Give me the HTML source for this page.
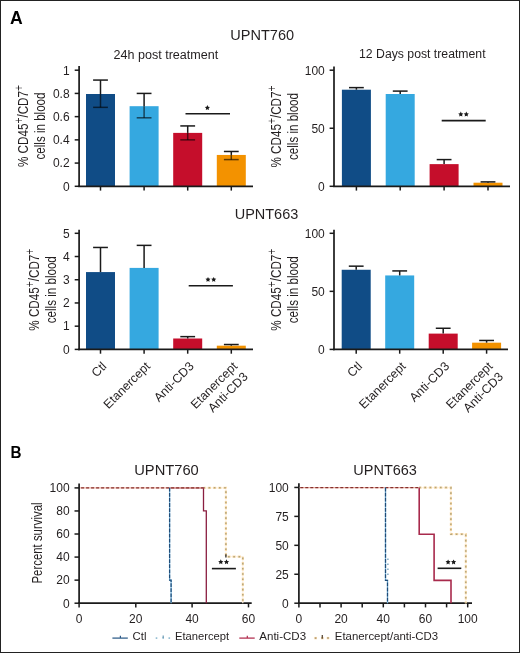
<!DOCTYPE html>
<html><head><meta charset="utf-8"><style>
html,body{margin:0;padding:0;background:#fff;}
body{width:520px;height:653px;overflow:hidden;}
svg{display:block;font-family:"Liberation Sans",sans-serif;will-change:transform;}
</style></head><body>
<svg width="520" height="653" viewBox="0 0 520 653">
<rect x="0" y="0" width="520" height="653" fill="#fff"/>
<text x="9.90" y="23.60" font-size="17.6" text-anchor="start" font-weight="bold" fill="#000" >A</text>
<text x="262.20" y="39.90" font-size="15" text-anchor="middle" font-weight="normal" fill="#231f20" textLength="63.8" lengthAdjust="spacingAndGlyphs" >UPNT760</text>
<text x="165.90" y="58.80" font-size="12.5" text-anchor="middle" font-weight="normal" fill="#231f20" textLength="104.8" lengthAdjust="spacingAndGlyphs" >24h post treatment</text>
<text x="422.30" y="58.40" font-size="12.3" text-anchor="middle" font-weight="normal" fill="#231f20" textLength="126.5" lengthAdjust="spacingAndGlyphs" >12 Days post treatment</text>
<text x="266.50" y="218.80" font-size="15" text-anchor="middle" font-weight="normal" fill="#231f20" textLength="63.6" lengthAdjust="spacingAndGlyphs" >UPNT663</text>
<rect x="86.00" y="94.00" width="29.00" height="92.30" fill="#104c86"/>
<rect x="129.60" y="106.19" width="29.00" height="80.11" fill="#35a8e0"/>
<rect x="173.20" y="132.89" width="29.00" height="53.41" fill="#c50e2b"/>
<rect x="216.80" y="154.95" width="29.00" height="31.35" fill="#f39200"/>
<line x1="100.50" y1="94.00" x2="100.50" y2="80.07" stroke="#1a1a1a" stroke-width="1.5" />
<line x1="93.10" y1="80.07" x2="107.90" y2="80.07" stroke="#1a1a1a" stroke-width="1.5" />
<line x1="100.50" y1="107.35" x2="100.50" y2="94.00" stroke="#000" stroke-width="1.5" stroke-opacity="0.6"/>
<line x1="93.10" y1="107.35" x2="107.90" y2="107.35" stroke="#000" stroke-width="1.5" stroke-opacity="0.6"/>
<line x1="144.10" y1="106.19" x2="144.10" y2="93.42" stroke="#1a1a1a" stroke-width="1.5" />
<line x1="136.70" y1="93.42" x2="151.50" y2="93.42" stroke="#1a1a1a" stroke-width="1.5" />
<line x1="144.10" y1="117.80" x2="144.10" y2="106.19" stroke="#000" stroke-width="1.5" stroke-opacity="0.6"/>
<line x1="136.70" y1="117.80" x2="151.50" y2="117.80" stroke="#000" stroke-width="1.5" stroke-opacity="0.6"/>
<line x1="187.70" y1="132.89" x2="187.70" y2="125.93" stroke="#1a1a1a" stroke-width="1.5" />
<line x1="180.30" y1="125.93" x2="195.10" y2="125.93" stroke="#1a1a1a" stroke-width="1.5" />
<line x1="187.70" y1="139.86" x2="187.70" y2="132.89" stroke="#000" stroke-width="1.5" stroke-opacity="0.6"/>
<line x1="180.30" y1="139.86" x2="195.10" y2="139.86" stroke="#000" stroke-width="1.5" stroke-opacity="0.6"/>
<line x1="231.30" y1="154.95" x2="231.30" y2="151.47" stroke="#1a1a1a" stroke-width="1.5" />
<line x1="223.90" y1="151.47" x2="238.70" y2="151.47" stroke="#1a1a1a" stroke-width="1.5" />
<line x1="231.30" y1="159.60" x2="231.30" y2="154.95" stroke="#000" stroke-width="1.5" stroke-opacity="0.6"/>
<line x1="223.90" y1="159.60" x2="238.70" y2="159.60" stroke="#000" stroke-width="1.5" stroke-opacity="0.6"/>
<line x1="79.10" y1="66.00" x2="79.10" y2="187.10" stroke="#1a1a1a" stroke-width="1.7" />
<line x1="78.25" y1="186.30" x2="253.00" y2="186.30" stroke="#1a1a1a" stroke-width="1.7" />
<line x1="74.70" y1="186.30" x2="79.10" y2="186.30" stroke="#1a1a1a" stroke-width="1.5" />
<text x="69.60" y="190.60" font-size="12" text-anchor="end" font-weight="normal" fill="#231f20" >0</text>
<line x1="74.70" y1="163.08" x2="79.10" y2="163.08" stroke="#1a1a1a" stroke-width="1.5" />
<text x="69.60" y="167.38" font-size="12" text-anchor="end" font-weight="normal" fill="#231f20" >0.2</text>
<line x1="74.70" y1="139.86" x2="79.10" y2="139.86" stroke="#1a1a1a" stroke-width="1.5" />
<text x="69.60" y="144.16" font-size="12" text-anchor="end" font-weight="normal" fill="#231f20" >0.4</text>
<line x1="74.70" y1="116.64" x2="79.10" y2="116.64" stroke="#1a1a1a" stroke-width="1.5" />
<text x="69.60" y="120.94" font-size="12" text-anchor="end" font-weight="normal" fill="#231f20" >0.6</text>
<line x1="74.70" y1="93.42" x2="79.10" y2="93.42" stroke="#1a1a1a" stroke-width="1.5" />
<text x="69.60" y="97.72" font-size="12" text-anchor="end" font-weight="normal" fill="#231f20" >0.8</text>
<line x1="74.70" y1="70.20" x2="79.10" y2="70.20" stroke="#1a1a1a" stroke-width="1.5" />
<text x="69.60" y="74.50" font-size="12" text-anchor="end" font-weight="normal" fill="#231f20" >1</text>
<line x1="100.50" y1="186.30" x2="100.50" y2="190.60" stroke="#1a1a1a" stroke-width="1.5" />
<line x1="144.10" y1="186.30" x2="144.10" y2="190.60" stroke="#1a1a1a" stroke-width="1.5" />
<line x1="187.70" y1="186.30" x2="187.70" y2="190.60" stroke="#1a1a1a" stroke-width="1.5" />
<line x1="231.30" y1="186.30" x2="231.30" y2="190.60" stroke="#1a1a1a" stroke-width="1.5" />
<g transform="translate(27.60,126.00) rotate(-90)"><text x="0" y="0" font-size="14.2" text-anchor="middle" fill="#231f20" textLength="82" lengthAdjust="spacingAndGlyphs">% CD45<tspan font-size="12.5" dy="-4.6">+</tspan><tspan dy="4.6">/CD7</tspan><tspan font-size="12.5" dy="-4.6">+</tspan></text></g>
<g transform="translate(45.40,126.00) rotate(-90)"><text x="0" y="0" font-size="14.2" text-anchor="middle" fill="#231f20" textLength="67" lengthAdjust="spacingAndGlyphs">cells in blood</text></g>
<line x1="185.50" y1="113.80" x2="230.00" y2="113.80" stroke="#1a1a1a" stroke-width="1.6" />
<polygon points="207.40,105.10 208.19,106.71 209.97,106.97 208.68,108.22 208.99,109.98 207.40,109.15 205.81,109.98 206.12,108.22 204.83,106.97 206.61,106.71" fill="#1a1a1a"/>
<rect x="341.90" y="89.70" width="29.00" height="96.60" fill="#104c86"/>
<rect x="385.70" y="94.00" width="29.00" height="92.30" fill="#35a8e0"/>
<rect x="429.60" y="164.12" width="29.00" height="22.18" fill="#c50e2b"/>
<rect x="473.50" y="182.70" width="29.00" height="3.60" fill="#f39200"/>
<line x1="356.40" y1="89.70" x2="356.40" y2="87.62" stroke="#1a1a1a" stroke-width="1.5" />
<line x1="349.00" y1="87.62" x2="363.80" y2="87.62" stroke="#1a1a1a" stroke-width="1.5" />
<line x1="400.20" y1="94.00" x2="400.20" y2="91.10" stroke="#1a1a1a" stroke-width="1.5" />
<line x1="392.80" y1="91.10" x2="407.60" y2="91.10" stroke="#1a1a1a" stroke-width="1.5" />
<line x1="444.10" y1="164.12" x2="444.10" y2="159.60" stroke="#1a1a1a" stroke-width="1.5" />
<line x1="436.70" y1="159.60" x2="451.50" y2="159.60" stroke="#1a1a1a" stroke-width="1.5" />
<line x1="488.00" y1="182.70" x2="488.00" y2="181.89" stroke="#1a1a1a" stroke-width="1.5" />
<line x1="480.60" y1="181.89" x2="495.40" y2="181.89" stroke="#1a1a1a" stroke-width="1.5" />
<line x1="334.00" y1="66.40" x2="334.00" y2="187.10" stroke="#1a1a1a" stroke-width="1.7" />
<line x1="333.15" y1="186.30" x2="510.00" y2="186.30" stroke="#1a1a1a" stroke-width="1.7" />
<line x1="329.60" y1="186.30" x2="334.00" y2="186.30" stroke="#1a1a1a" stroke-width="1.5" />
<text x="324.80" y="190.60" font-size="12" text-anchor="end" font-weight="normal" fill="#231f20" >0</text>
<line x1="329.60" y1="128.25" x2="334.00" y2="128.25" stroke="#1a1a1a" stroke-width="1.5" />
<text x="324.80" y="132.55" font-size="12" text-anchor="end" font-weight="normal" fill="#231f20" >50</text>
<line x1="329.60" y1="70.20" x2="334.00" y2="70.20" stroke="#1a1a1a" stroke-width="1.5" />
<text x="324.80" y="74.50" font-size="12" text-anchor="end" font-weight="normal" fill="#231f20" >100</text>
<line x1="356.40" y1="186.30" x2="356.40" y2="190.60" stroke="#1a1a1a" stroke-width="1.5" />
<line x1="400.20" y1="186.30" x2="400.20" y2="190.60" stroke="#1a1a1a" stroke-width="1.5" />
<line x1="444.10" y1="186.30" x2="444.10" y2="190.60" stroke="#1a1a1a" stroke-width="1.5" />
<line x1="488.00" y1="186.30" x2="488.00" y2="190.60" stroke="#1a1a1a" stroke-width="1.5" />
<g transform="translate(280.90,126.50) rotate(-90)"><text x="0" y="0" font-size="14.2" text-anchor="middle" fill="#231f20" textLength="82" lengthAdjust="spacingAndGlyphs">% CD45<tspan font-size="12.5" dy="-4.6">+</tspan><tspan dy="4.6">/CD7</tspan><tspan font-size="12.5" dy="-4.6">+</tspan></text></g>
<g transform="translate(298.40,126.50) rotate(-90)"><text x="0" y="0" font-size="14.2" text-anchor="middle" fill="#231f20" textLength="67" lengthAdjust="spacingAndGlyphs">cells in blood</text></g>
<line x1="441.70" y1="120.60" x2="485.70" y2="120.60" stroke="#1a1a1a" stroke-width="1.6" />
<polygon points="460.80,111.60 461.59,113.21 463.37,113.47 462.08,114.72 462.39,116.48 460.80,115.65 459.21,116.48 459.52,114.72 458.23,113.47 460.01,113.21" fill="#1a1a1a"/>
<polygon points="466.30,111.60 467.09,113.21 468.87,113.47 467.58,114.72 467.89,116.48 466.30,115.65 464.71,116.48 465.02,114.72 463.73,113.47 465.51,113.21" fill="#1a1a1a"/>
<rect x="86.00" y="272.08" width="29.00" height="77.32" fill="#104c86"/>
<rect x="129.60" y="267.90" width="29.00" height="81.50" fill="#35a8e0"/>
<rect x="173.20" y="338.49" width="29.00" height="10.91" fill="#c50e2b"/>
<rect x="216.80" y="345.68" width="29.00" height="3.72" fill="#f39200"/>
<line x1="100.50" y1="272.08" x2="100.50" y2="247.46" stroke="#1a1a1a" stroke-width="1.5" />
<line x1="93.10" y1="247.46" x2="107.90" y2="247.46" stroke="#1a1a1a" stroke-width="1.5" />
<line x1="144.10" y1="267.90" x2="144.10" y2="245.37" stroke="#1a1a1a" stroke-width="1.5" />
<line x1="136.70" y1="245.37" x2="151.50" y2="245.37" stroke="#1a1a1a" stroke-width="1.5" />
<line x1="187.70" y1="338.49" x2="187.70" y2="336.63" stroke="#1a1a1a" stroke-width="1.5" />
<line x1="180.30" y1="336.63" x2="195.10" y2="336.63" stroke="#1a1a1a" stroke-width="1.5" />
<line x1="231.30" y1="345.68" x2="231.30" y2="344.52" stroke="#1a1a1a" stroke-width="1.5" />
<line x1="223.90" y1="344.52" x2="238.70" y2="344.52" stroke="#1a1a1a" stroke-width="1.5" />
<line x1="79.10" y1="229.70" x2="79.10" y2="350.20" stroke="#1a1a1a" stroke-width="1.7" />
<line x1="78.25" y1="349.40" x2="253.00" y2="349.40" stroke="#1a1a1a" stroke-width="1.7" />
<line x1="74.70" y1="349.40" x2="79.10" y2="349.40" stroke="#1a1a1a" stroke-width="1.5" />
<text x="69.80" y="353.70" font-size="12" text-anchor="end" font-weight="normal" fill="#231f20" >0</text>
<line x1="74.70" y1="326.18" x2="79.10" y2="326.18" stroke="#1a1a1a" stroke-width="1.5" />
<text x="69.80" y="330.48" font-size="12" text-anchor="end" font-weight="normal" fill="#231f20" >1</text>
<line x1="74.70" y1="302.96" x2="79.10" y2="302.96" stroke="#1a1a1a" stroke-width="1.5" />
<text x="69.80" y="307.26" font-size="12" text-anchor="end" font-weight="normal" fill="#231f20" >2</text>
<line x1="74.70" y1="279.74" x2="79.10" y2="279.74" stroke="#1a1a1a" stroke-width="1.5" />
<text x="69.80" y="284.04" font-size="12" text-anchor="end" font-weight="normal" fill="#231f20" >3</text>
<line x1="74.70" y1="256.52" x2="79.10" y2="256.52" stroke="#1a1a1a" stroke-width="1.5" />
<text x="69.80" y="260.82" font-size="12" text-anchor="end" font-weight="normal" fill="#231f20" >4</text>
<line x1="74.70" y1="233.30" x2="79.10" y2="233.30" stroke="#1a1a1a" stroke-width="1.5" />
<text x="69.80" y="237.60" font-size="12" text-anchor="end" font-weight="normal" fill="#231f20" >5</text>
<line x1="100.50" y1="349.40" x2="100.50" y2="353.70" stroke="#1a1a1a" stroke-width="1.5" />
<line x1="144.10" y1="349.40" x2="144.10" y2="353.70" stroke="#1a1a1a" stroke-width="1.5" />
<line x1="187.70" y1="349.40" x2="187.70" y2="353.70" stroke="#1a1a1a" stroke-width="1.5" />
<line x1="231.30" y1="349.40" x2="231.30" y2="353.70" stroke="#1a1a1a" stroke-width="1.5" />
<g transform="translate(38.70,289.70) rotate(-90)"><text x="0" y="0" font-size="14.2" text-anchor="middle" fill="#231f20" textLength="82" lengthAdjust="spacingAndGlyphs">% CD45<tspan font-size="12.5" dy="-4.6">+</tspan><tspan dy="4.6">/CD7</tspan><tspan font-size="12.5" dy="-4.6">+</tspan></text></g>
<g transform="translate(56.10,289.70) rotate(-90)"><text x="0" y="0" font-size="14.2" text-anchor="middle" fill="#231f20" textLength="67" lengthAdjust="spacingAndGlyphs">cells in blood</text></g>
<line x1="188.70" y1="285.70" x2="232.90" y2="285.70" stroke="#1a1a1a" stroke-width="1.6" />
<polygon points="208.00,276.90 208.79,278.51 210.57,278.77 209.28,280.02 209.59,281.78 208.00,280.95 206.41,281.78 206.72,280.02 205.43,278.77 207.21,278.51" fill="#1a1a1a"/>
<polygon points="213.70,276.90 214.49,278.51 216.27,278.77 214.98,280.02 215.29,281.78 213.70,280.95 212.11,281.78 212.42,280.02 211.13,278.77 212.91,278.51" fill="#1a1a1a"/>
<rect x="341.70" y="269.76" width="29.00" height="79.64" fill="#104c86"/>
<rect x="385.20" y="275.44" width="29.00" height="73.96" fill="#35a8e0"/>
<rect x="428.70" y="333.61" width="29.00" height="15.79" fill="#c50e2b"/>
<rect x="472.10" y="342.67" width="29.00" height="6.73" fill="#f39200"/>
<line x1="356.20" y1="269.76" x2="356.20" y2="266.16" stroke="#1a1a1a" stroke-width="1.5" />
<line x1="348.80" y1="266.16" x2="363.60" y2="266.16" stroke="#1a1a1a" stroke-width="1.5" />
<line x1="399.70" y1="275.44" x2="399.70" y2="270.92" stroke="#1a1a1a" stroke-width="1.5" />
<line x1="392.30" y1="270.92" x2="407.10" y2="270.92" stroke="#1a1a1a" stroke-width="1.5" />
<line x1="443.20" y1="333.61" x2="443.20" y2="328.27" stroke="#1a1a1a" stroke-width="1.5" />
<line x1="435.80" y1="328.27" x2="450.60" y2="328.27" stroke="#1a1a1a" stroke-width="1.5" />
<line x1="486.60" y1="342.67" x2="486.60" y2="340.46" stroke="#1a1a1a" stroke-width="1.5" />
<line x1="479.20" y1="340.46" x2="494.00" y2="340.46" stroke="#1a1a1a" stroke-width="1.5" />
<line x1="334.00" y1="229.70" x2="334.00" y2="350.20" stroke="#1a1a1a" stroke-width="1.7" />
<line x1="333.15" y1="349.40" x2="508.00" y2="349.40" stroke="#1a1a1a" stroke-width="1.7" />
<line x1="329.60" y1="349.40" x2="334.00" y2="349.40" stroke="#1a1a1a" stroke-width="1.5" />
<text x="324.80" y="353.70" font-size="12" text-anchor="end" font-weight="normal" fill="#231f20" >0</text>
<line x1="329.60" y1="291.35" x2="334.00" y2="291.35" stroke="#1a1a1a" stroke-width="1.5" />
<text x="324.80" y="295.65" font-size="12" text-anchor="end" font-weight="normal" fill="#231f20" >50</text>
<line x1="329.60" y1="233.30" x2="334.00" y2="233.30" stroke="#1a1a1a" stroke-width="1.5" />
<text x="324.80" y="237.60" font-size="12" text-anchor="end" font-weight="normal" fill="#231f20" >100</text>
<line x1="356.20" y1="349.40" x2="356.20" y2="353.70" stroke="#1a1a1a" stroke-width="1.5" />
<line x1="399.70" y1="349.40" x2="399.70" y2="353.70" stroke="#1a1a1a" stroke-width="1.5" />
<line x1="443.20" y1="349.40" x2="443.20" y2="353.70" stroke="#1a1a1a" stroke-width="1.5" />
<line x1="486.60" y1="349.40" x2="486.60" y2="353.70" stroke="#1a1a1a" stroke-width="1.5" />
<g transform="translate(280.90,289.70) rotate(-90)"><text x="0" y="0" font-size="14.2" text-anchor="middle" fill="#231f20" textLength="82" lengthAdjust="spacingAndGlyphs">% CD45<tspan font-size="12.5" dy="-4.6">+</tspan><tspan dy="4.6">/CD7</tspan><tspan font-size="12.5" dy="-4.6">+</tspan></text></g>
<g transform="translate(298.40,289.70) rotate(-90)"><text x="0" y="0" font-size="14.2" text-anchor="middle" fill="#231f20" textLength="67" lengthAdjust="spacingAndGlyphs">cells in blood</text></g>
<text transform="translate(107.30,367.00) rotate(-45)" font-size="12.4" text-anchor="end" fill="#231f20">Ctl</text>
<text transform="translate(150.90,367.00) rotate(-45)" font-size="12.4" text-anchor="end" fill="#231f20">Etanercept</text>
<text transform="translate(194.50,367.00) rotate(-45)" font-size="12.4" text-anchor="end" fill="#231f20">Anti-CD3</text>
<text transform="translate(238.10,367.00) rotate(-45)" font-size="12.4" text-anchor="end" fill="#231f20"><tspan x="0" y="0">Etanercept</tspan><tspan x="0" y="14.8">Anti-CD3</tspan></text>
<text transform="translate(363.00,367.00) rotate(-45)" font-size="12.4" text-anchor="end" fill="#231f20">Ctl</text>
<text transform="translate(406.50,367.00) rotate(-45)" font-size="12.4" text-anchor="end" fill="#231f20">Etanercept</text>
<text transform="translate(450.00,367.00) rotate(-45)" font-size="12.4" text-anchor="end" fill="#231f20">Anti-CD3</text>
<text transform="translate(493.40,367.00) rotate(-45)" font-size="12.4" text-anchor="end" fill="#231f20"><tspan x="0" y="0">Etanercept</tspan><tspan x="0" y="14.8">Anti-CD3</tspan></text>
<text x="10.40" y="458.30" font-size="16.8" text-anchor="start" font-weight="bold" fill="#000" textLength="11.0" lengthAdjust="spacingAndGlyphs" >B</text>
<text x="166.50" y="475.30" font-size="15.4" text-anchor="middle" font-weight="normal" fill="#231f20" textLength="64.6" lengthAdjust="spacingAndGlyphs" >UPNT760</text>
<text x="385.10" y="474.90" font-size="15.4" text-anchor="middle" font-weight="normal" fill="#231f20" textLength="63.6" lengthAdjust="spacingAndGlyphs" >UPNT663</text>
<line x1="79.10" y1="483.40" x2="79.10" y2="604.00" stroke="#1a1a1a" stroke-width="1.7" />
<line x1="78.25" y1="603.20" x2="251.70" y2="603.20" stroke="#1a1a1a" stroke-width="1.7" />
<line x1="74.50" y1="603.20" x2="79.10" y2="603.20" stroke="#1a1a1a" stroke-width="1.5" />
<text x="69.60" y="607.50" font-size="12" text-anchor="end" font-weight="normal" fill="#231f20" >0</text>
<line x1="74.50" y1="580.14" x2="79.10" y2="580.14" stroke="#1a1a1a" stroke-width="1.5" />
<text x="69.60" y="584.44" font-size="12" text-anchor="end" font-weight="normal" fill="#231f20" >20</text>
<line x1="74.50" y1="557.08" x2="79.10" y2="557.08" stroke="#1a1a1a" stroke-width="1.5" />
<text x="69.60" y="561.38" font-size="12" text-anchor="end" font-weight="normal" fill="#231f20" >40</text>
<line x1="74.50" y1="534.02" x2="79.10" y2="534.02" stroke="#1a1a1a" stroke-width="1.5" />
<text x="69.60" y="538.32" font-size="12" text-anchor="end" font-weight="normal" fill="#231f20" >60</text>
<line x1="74.50" y1="510.96" x2="79.10" y2="510.96" stroke="#1a1a1a" stroke-width="1.5" />
<text x="69.60" y="515.26" font-size="12" text-anchor="end" font-weight="normal" fill="#231f20" >80</text>
<line x1="74.50" y1="487.90" x2="79.10" y2="487.90" stroke="#1a1a1a" stroke-width="1.5" />
<text x="69.60" y="492.20" font-size="12" text-anchor="end" font-weight="normal" fill="#231f20" >100</text>
<line x1="79.10" y1="603.20" x2="79.10" y2="607.40" stroke="#1a1a1a" stroke-width="1.5" />
<text x="79.10" y="622.80" font-size="12" text-anchor="middle" font-weight="normal" fill="#231f20" >0</text>
<line x1="135.80" y1="603.20" x2="135.80" y2="607.40" stroke="#1a1a1a" stroke-width="1.5" />
<text x="135.80" y="622.80" font-size="12" text-anchor="middle" font-weight="normal" fill="#231f20" >20</text>
<line x1="192.10" y1="603.20" x2="192.10" y2="607.40" stroke="#1a1a1a" stroke-width="1.5" />
<text x="192.10" y="622.80" font-size="12" text-anchor="middle" font-weight="normal" fill="#231f20" >40</text>
<line x1="248.50" y1="603.20" x2="248.50" y2="607.40" stroke="#1a1a1a" stroke-width="1.5" />
<text x="248.50" y="622.80" font-size="12" text-anchor="middle" font-weight="normal" fill="#231f20" >60</text>
<line x1="298.90" y1="483.20" x2="298.90" y2="604.00" stroke="#1a1a1a" stroke-width="1.7" />
<line x1="298.05" y1="603.20" x2="472.00" y2="603.20" stroke="#1a1a1a" stroke-width="1.7" />
<line x1="294.30" y1="603.20" x2="298.90" y2="603.20" stroke="#1a1a1a" stroke-width="1.5" />
<text x="288.80" y="607.50" font-size="12" text-anchor="end" font-weight="normal" fill="#231f20" >0</text>
<line x1="294.30" y1="574.26" x2="298.90" y2="574.26" stroke="#1a1a1a" stroke-width="1.5" />
<text x="288.80" y="578.56" font-size="12" text-anchor="end" font-weight="normal" fill="#231f20" >25</text>
<line x1="294.30" y1="545.33" x2="298.90" y2="545.33" stroke="#1a1a1a" stroke-width="1.5" />
<text x="288.80" y="549.62" font-size="12" text-anchor="end" font-weight="normal" fill="#231f20" >50</text>
<line x1="294.30" y1="516.39" x2="298.90" y2="516.39" stroke="#1a1a1a" stroke-width="1.5" />
<text x="288.80" y="520.69" font-size="12" text-anchor="end" font-weight="normal" fill="#231f20" >75</text>
<line x1="294.30" y1="487.45" x2="298.90" y2="487.45" stroke="#1a1a1a" stroke-width="1.5" />
<text x="288.80" y="491.75" font-size="12" text-anchor="end" font-weight="normal" fill="#231f20" >100</text>
<line x1="298.90" y1="603.20" x2="298.90" y2="607.40" stroke="#1a1a1a" stroke-width="1.5" />
<text x="298.90" y="622.80" font-size="12" text-anchor="middle" font-weight="normal" fill="#231f20" >0</text>
<line x1="320.00" y1="603.20" x2="320.00" y2="607.40" stroke="#1a1a1a" stroke-width="1.5" />
<line x1="341.10" y1="603.20" x2="341.10" y2="607.40" stroke="#1a1a1a" stroke-width="1.5" />
<text x="341.10" y="622.80" font-size="12" text-anchor="middle" font-weight="normal" fill="#231f20" >20</text>
<line x1="362.20" y1="603.20" x2="362.20" y2="607.40" stroke="#1a1a1a" stroke-width="1.5" />
<line x1="383.30" y1="603.20" x2="383.30" y2="607.40" stroke="#1a1a1a" stroke-width="1.5" />
<text x="383.30" y="622.80" font-size="12" text-anchor="middle" font-weight="normal" fill="#231f20" >40</text>
<line x1="404.40" y1="603.20" x2="404.40" y2="607.40" stroke="#1a1a1a" stroke-width="1.5" />
<line x1="425.50" y1="603.20" x2="425.50" y2="607.40" stroke="#1a1a1a" stroke-width="1.5" />
<text x="425.50" y="622.80" font-size="12" text-anchor="middle" font-weight="normal" fill="#231f20" >60</text>
<line x1="446.60" y1="603.20" x2="446.60" y2="607.40" stroke="#1a1a1a" stroke-width="1.5" />
<line x1="467.70" y1="603.20" x2="467.70" y2="607.40" stroke="#1a1a1a" stroke-width="1.5" />
<text x="467.70" y="622.80" font-size="12" text-anchor="middle" font-weight="normal" fill="#231f20" >100</text>
<path d="M203.40,487.80 L225.90,487.80 L225.90,556.70 L242.80,556.70 L242.80,603.20" fill="none" stroke="#fdf3e4" stroke-width="1.2" stroke-linejoin="miter" />
<path d="M203.40,487.80 L225.90,487.80 L225.90,556.70 L242.80,556.70 L242.80,603.20" fill="none" stroke="#fcdcac" stroke-width="2.2" stroke-linejoin="miter" stroke-dasharray="3.2 2.0" stroke-dashoffset="0.8"/>
<path d="M203.40,487.80 L225.90,487.80 L225.90,556.70 L242.80,556.70 L242.80,603.20" fill="none" stroke="#b2a67e" stroke-width="1.5" stroke-linejoin="miter" stroke-dasharray="1.6 3.6"/>
<path d="M169.60,487.80 L203.50,487.80 L203.50,510.90 L206.30,510.90 L206.30,603.20" fill="none" stroke="#8a1e40" stroke-width="1.3" stroke-linejoin="miter" />
<line x1="80.00" y1="487.80" x2="203.40" y2="487.80" stroke="#eeb4a8" stroke-width="1.35" />
<line x1="80.00" y1="487.80" x2="203.40" y2="487.80" stroke="#86302c" stroke-width="1.35" stroke-dasharray="3 2" stroke-dashoffset="-1.1"/>
<path d="M169.60,487.80 L169.60,580.10 L171.10,580.10 L171.10,603.20" fill="none" stroke="#7ab8e0" stroke-width="1.25" stroke-linejoin="miter" />
<path d="M169.60,487.80 L169.60,580.10 L171.10,580.10 L171.10,603.20" fill="none" stroke="#1f4c78" stroke-width="1.25" stroke-linejoin="miter" stroke-dasharray="3.8 1.3"/>
<line x1="225.90" y1="554.40" x2="225.90" y2="557.60" stroke="#2a2a2a" stroke-width="1.3" />
<line x1="211.90" y1="568.60" x2="235.90" y2="568.60" stroke="#1a1a1a" stroke-width="1.6" />
<polygon points="220.80,559.30 221.59,560.91 223.37,561.17 222.08,562.42 222.39,564.18 220.80,563.35 219.21,564.18 219.52,562.42 218.23,561.17 220.01,560.91" fill="#1a1a1a"/>
<polygon points="226.50,559.30 227.29,560.91 229.07,561.17 227.78,562.42 228.09,564.18 226.50,563.35 224.91,564.18 225.22,562.42 223.93,561.17 225.71,560.91" fill="#1a1a1a"/>
<path d="M419.20,487.60 L450.90,487.60 L450.90,534.20 L465.80,534.20 L465.80,603.20" fill="none" stroke="#fdf3e4" stroke-width="1.2" stroke-linejoin="miter" />
<path d="M419.20,487.60 L450.90,487.60 L450.90,534.20 L465.80,534.20 L465.80,603.20" fill="none" stroke="#fcdcac" stroke-width="2.2" stroke-linejoin="miter" stroke-dasharray="3.2 2.0" stroke-dashoffset="0.8"/>
<path d="M419.20,487.60 L450.90,487.60 L450.90,534.20 L465.80,534.20 L465.80,603.20" fill="none" stroke="#b2a67e" stroke-width="1.5" stroke-linejoin="miter" stroke-dasharray="1.6 3.6"/>
<path d="M419.20,487.60 L419.20,534.20 L434.10,534.20 L434.10,580.40 L451.00,580.40 L451.00,603.20" fill="none" stroke="#a82a4c" stroke-width="1.6" stroke-linejoin="miter" />
<line x1="299.80" y1="487.60" x2="419.20" y2="487.60" stroke="#eeb4a8" stroke-width="1.35" />
<line x1="299.80" y1="487.60" x2="419.20" y2="487.60" stroke="#86302c" stroke-width="1.35" stroke-dasharray="3 2" stroke-dashoffset="-0.5"/>
<line x1="387.90" y1="558.60" x2="387.90" y2="575.90" stroke="#6e9cba" stroke-width="1.3" stroke-dasharray="1.4 3.6"/>
<path d="M385.50,487.60 L385.50,580.40 L387.50,580.40 L387.50,603.20" fill="none" stroke="#7ab8e0" stroke-width="1.25" stroke-linejoin="miter" />
<path d="M385.50,487.60 L385.50,580.40 L387.50,580.40 L387.50,603.20" fill="none" stroke="#1f4c78" stroke-width="1.25" stroke-linejoin="miter" stroke-dasharray="3.8 1.3"/>
<line x1="437.60" y1="568.30" x2="461.30" y2="568.30" stroke="#1a1a1a" stroke-width="1.6" />
<polygon points="448.10,559.50 448.89,561.11 450.67,561.37 449.38,562.62 449.69,564.38 448.10,563.55 446.51,564.38 446.82,562.62 445.53,561.37 447.31,561.11" fill="#1a1a1a"/>
<polygon points="453.60,559.50 454.39,561.11 456.17,561.37 454.88,562.62 455.19,564.38 453.60,563.55 452.01,564.38 452.32,562.62 451.03,561.37 452.81,561.11" fill="#1a1a1a"/>
<g transform="translate(42.4,543.0) rotate(-90)"><text x="0" y="0" font-size="14.2" text-anchor="middle" fill="#231f20" textLength="81" lengthAdjust="spacingAndGlyphs">Percent survival</text></g>
<line x1="112.40" y1="638.10" x2="127.80" y2="638.10" stroke="#2c5a88" stroke-width="1.25" />
<line x1="120.40" y1="638.10" x2="120.40" y2="635.70" stroke="#2c5a88" stroke-width="1.2" />
<text x="132.60" y="639.50" font-size="10.5" text-anchor="start" font-weight="normal" fill="#231f20" textLength="13.9" lengthAdjust="spacingAndGlyphs" >Ctl</text>
<line x1="155.70" y1="638.10" x2="157.30" y2="638.10" stroke="#84b4cc" stroke-width="1.5" />
<line x1="162.40" y1="638.10" x2="164.00" y2="638.10" stroke="#84b4cc" stroke-width="1.5" />
<line x1="168.50" y1="638.10" x2="170.10" y2="638.10" stroke="#84b4cc" stroke-width="1.5" />
<line x1="163.20" y1="638.10" x2="163.20" y2="635.50" stroke="#6a9ab4" stroke-width="1.2" />
<text x="175.00" y="639.60" font-size="10.5" text-anchor="start" font-weight="normal" fill="#231f20" textLength="54.2" lengthAdjust="spacingAndGlyphs" >Etanercept</text>
<line x1="239.30" y1="638.10" x2="254.70" y2="638.10" stroke="#b02a4c" stroke-width="1.25" />
<line x1="247.30" y1="638.10" x2="247.30" y2="635.70" stroke="#b02a4c" stroke-width="1.2" />
<text x="259.30" y="639.60" font-size="10.5" text-anchor="start" font-weight="normal" fill="#231f20" textLength="46.8" lengthAdjust="spacingAndGlyphs" >Anti-CD3</text>
<line x1="314.30" y1="638.10" x2="316.90" y2="638.10" stroke="#fcd9a4" stroke-width="2.4" />
<line x1="314.80" y1="638.10" x2="316.40" y2="638.10" stroke="#a8987a" stroke-width="1.5" />
<line x1="321.00" y1="638.10" x2="323.60" y2="638.10" stroke="#fcd9a4" stroke-width="2.4" />
<line x1="321.50" y1="638.10" x2="323.10" y2="638.10" stroke="#a8987a" stroke-width="1.5" />
<line x1="326.70" y1="638.10" x2="329.30" y2="638.10" stroke="#fcd9a4" stroke-width="2.4" />
<line x1="327.20" y1="638.10" x2="328.80" y2="638.10" stroke="#a8987a" stroke-width="1.5" />
<line x1="322.30" y1="638.60" x2="322.30" y2="634.90" stroke="#5a4a3a" stroke-width="1.3" />
<text x="334.80" y="639.60" font-size="10.5" text-anchor="start" font-weight="normal" fill="#231f20" textLength="103.4" lengthAdjust="spacingAndGlyphs" >Etanercept/anti-CD3</text>
<rect x="0.5" y="0.5" width="519" height="652" fill="none" stroke="#222" stroke-width="1"/>
</svg>
</body></html>
